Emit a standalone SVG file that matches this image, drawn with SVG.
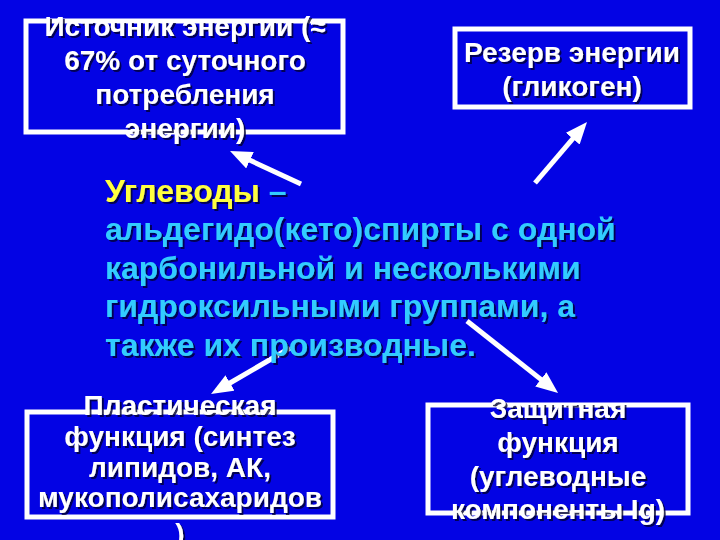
<svg xmlns="http://www.w3.org/2000/svg" width="720" height="540" viewBox="0 0 720 540">
<defs>
<filter id="sh" x="-10%" y="-10%" width="120%" height="130%">
<feDropShadow dx="2" dy="2" stdDeviation="0.6" flood-color="#000033" flood-opacity="0.8"/>
</filter>
<marker id="ah" viewBox="0 0 22 18" markerWidth="22" markerHeight="18" refX="13" refY="9" orient="auto" markerUnits="userSpaceOnUse">
<path d="M0,0 L22,9 L0,18 z" fill="#ffffff"/>
</marker>
<style>
.box{fill:none;stroke:#ffffff;stroke-width:5}
.bt{font-family:"Liberation Sans",Arial,sans-serif;font-weight:bold;font-size:28px;fill:#ffffff;text-anchor:middle;filter:url(#sh)}
.mt{font-family:"Liberation Sans",Arial,sans-serif;font-weight:bold;font-size:32px;fill:#33CCFF;filter:url(#sh)}
.y{fill:#FFFF40}
.arr{stroke:#ffffff;stroke-width:5;fill:none;marker-end:url(#ah)}
</style>
</defs>
<rect x="0" y="0" width="720" height="540" fill="#0303E4"/>
<g id="connectors">
<line class="arr" x1="301" y1="184" x2="238.2" y2="154.8"/>
<line class="arr" x1="535" y1="183" x2="581.2" y2="128.8"/>
<line class="arr" x1="290" y1="348" x2="218.8" y2="389.5"/>
<line class="arr" x1="467" y1="321" x2="551" y2="387.4"/>
</g>
<g id="source">
<rect class="box" x="26" y="21" width="317" height="111"/>
<text class="bt" x="185" y="36">Источник энергии (≈</text>
<text class="bt" x="185" y="70">67% от суточного</text>
<text class="bt" x="185" y="104">потребления</text>
<text class="bt" x="185" y="138">энергии)</text>
</g>
<g id="reserve">
<rect class="box" x="455" y="29" width="235" height="78"/>
<text class="bt" x="572" y="62">Резерв энергии</text>
<text class="bt" x="572" y="96">(гликоген)</text>
</g>
<g id="carbs">
<text class="mt" x="105" y="202"><tspan class="y">Углеводы</tspan> –</text>
<text class="mt" x="105" y="240">альдегидо(кето)спирты с одной</text>
<text class="mt" x="105" y="279">карбонильной и несколькими</text>
<text class="mt" x="105" y="317">гидроксильными группами, а</text>
<text class="mt" x="105" y="356">также их производные.</text>
</g>
<g id="plastic">
<rect class="box" x="27" y="412" width="306" height="105"/>
<text class="bt" x="180" y="415">Пластическая</text>
<text class="bt" x="180" y="446">функция (синтез</text>
<text class="bt" x="180" y="477">липидов, АК,</text>
<text class="bt" x="180" y="507">мукополисахаридов</text>
<text class="bt" x="180" y="543">)</text>
</g>
<g id="protective">
<rect class="box" x="428" y="405" width="260" height="108"/>
<text class="bt" x="558" y="418">Защитная</text>
<text class="bt" x="558" y="452">функция</text>
<text class="bt" x="558" y="486">(углеводные</text>
<text class="bt" x="558" y="519">компоненты Ig)</text>
</g>
</svg>
